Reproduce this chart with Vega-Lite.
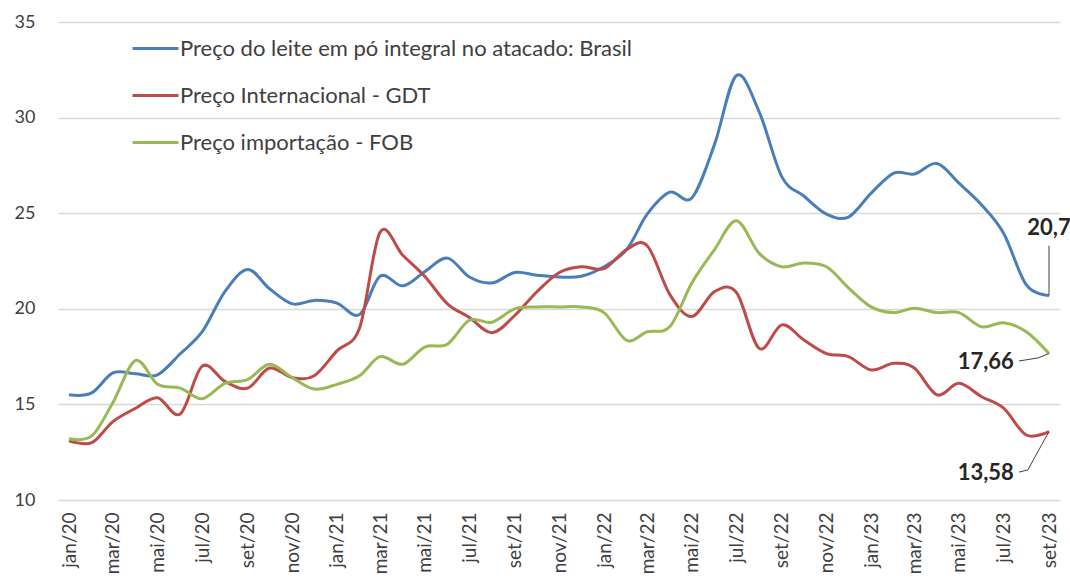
{
  "$schema": "https://vega.github.io/schema/vega-lite/v6.json",
  "width": 1002,
  "height": 478,
  "autosize": {"type": "none"},
  "padding": {"left": 58, "top": 22, "right": 10, "bottom": 82},
  "background": "white",
  "config": {"view": {"stroke": null}, "font": "Lato"},
  "datasets": {
    "prices": [
      {"date": "2020-01-01", "s": "B", "v": 15.5}, {"date": "2020-01-01", "s": "G", "v": 13.1}, {"date": "2020-01-01", "s": "F", "v": 13.2},
      {"date": "2020-02-01", "s": "B", "v": 15.6}, {"date": "2020-02-01", "s": "G", "v": 13.0}, {"date": "2020-02-01", "s": "F", "v": 13.35},
      {"date": "2020-03-01", "s": "B", "v": 16.65}, {"date": "2020-03-01", "s": "G", "v": 14.1}, {"date": "2020-03-01", "s": "F", "v": 15.1},
      {"date": "2020-04-01", "s": "B", "v": 16.6}, {"date": "2020-04-01", "s": "G", "v": 14.8}, {"date": "2020-04-01", "s": "F", "v": 17.3},
      {"date": "2020-05-01", "s": "B", "v": 16.55}, {"date": "2020-05-01", "s": "G", "v": 15.35}, {"date": "2020-05-01", "s": "F", "v": 16.05},
      {"date": "2020-06-01", "s": "B", "v": 17.65}, {"date": "2020-06-01", "s": "G", "v": 14.5}, {"date": "2020-06-01", "s": "F", "v": 15.85},
      {"date": "2020-07-01", "s": "B", "v": 18.8}, {"date": "2020-07-01", "s": "G", "v": 17.0}, {"date": "2020-07-01", "s": "F", "v": 15.3},
      {"date": "2020-08-01", "s": "B", "v": 20.9}, {"date": "2020-08-01", "s": "G", "v": 16.2}, {"date": "2020-08-01", "s": "F", "v": 16.1},
      {"date": "2020-09-01", "s": "B", "v": 22.05}, {"date": "2020-09-01", "s": "G", "v": 15.85}, {"date": "2020-09-01", "s": "F", "v": 16.3},
      {"date": "2020-10-01", "s": "B", "v": 21.05}, {"date": "2020-10-01", "s": "G", "v": 16.9}, {"date": "2020-10-01", "s": "F", "v": 17.1},
      {"date": "2020-11-01", "s": "B", "v": 20.26}, {"date": "2020-11-01", "s": "G", "v": 16.4}, {"date": "2020-11-01", "s": "F", "v": 16.4},
      {"date": "2020-12-01", "s": "B", "v": 20.44}, {"date": "2020-12-01", "s": "G", "v": 16.5}, {"date": "2020-12-01", "s": "F", "v": 15.8},
      {"date": "2021-01-01", "s": "B", "v": 20.3}, {"date": "2021-01-01", "s": "G", "v": 17.8}, {"date": "2021-01-01", "s": "F", "v": 16.05},
      {"date": "2021-02-01", "s": "B", "v": 19.7}, {"date": "2021-02-01", "s": "G", "v": 19.0}, {"date": "2021-02-01", "s": "F", "v": 16.5},
      {"date": "2021-03-01", "s": "B", "v": 21.7}, {"date": "2021-03-01", "s": "G", "v": 24.0}, {"date": "2021-03-01", "s": "F", "v": 17.5},
      {"date": "2021-04-01", "s": "B", "v": 21.2}, {"date": "2021-04-01", "s": "G", "v": 22.8}, {"date": "2021-04-01", "s": "F", "v": 17.1},
      {"date": "2021-05-01", "s": "B", "v": 21.94}, {"date": "2021-05-01", "s": "G", "v": 21.7}, {"date": "2021-05-01", "s": "F", "v": 18.0},
      {"date": "2021-06-01", "s": "B", "v": 22.65}, {"date": "2021-06-01", "s": "G", "v": 20.26}, {"date": "2021-06-01", "s": "F", "v": 18.15},
      {"date": "2021-07-01", "s": "B", "v": 21.66}, {"date": "2021-07-01", "s": "G", "v": 19.55}, {"date": "2021-07-01", "s": "F", "v": 19.4},
      {"date": "2021-08-01", "s": "B", "v": 21.35}, {"date": "2021-08-01", "s": "G", "v": 18.75}, {"date": "2021-08-01", "s": "F", "v": 19.3},
      {"date": "2021-09-01", "s": "B", "v": 21.9}, {"date": "2021-09-01", "s": "G", "v": 19.65}, {"date": "2021-09-01", "s": "F", "v": 20.0},
      {"date": "2021-10-01", "s": "B", "v": 21.76}, {"date": "2021-10-01", "s": "G", "v": 20.88}, {"date": "2021-10-01", "s": "F", "v": 20.1},
      {"date": "2021-11-01", "s": "B", "v": 21.66}, {"date": "2021-11-01", "s": "G", "v": 21.9}, {"date": "2021-11-01", "s": "F", "v": 20.1},
      {"date": "2021-12-01", "s": "B", "v": 21.7}, {"date": "2021-12-01", "s": "G", "v": 22.2}, {"date": "2021-12-01", "s": "F", "v": 20.1},
      {"date": "2022-01-01", "s": "B", "v": 22.2}, {"date": "2022-01-01", "s": "G", "v": 22.1}, {"date": "2022-01-01", "s": "F", "v": 19.8},
      {"date": "2022-02-01", "s": "B", "v": 23.1}, {"date": "2022-02-01", "s": "G", "v": 23.1}, {"date": "2022-02-01", "s": "F", "v": 18.35},
      {"date": "2022-03-01", "s": "B", "v": 24.95}, {"date": "2022-03-01", "s": "G", "v": 23.3}, {"date": "2022-03-01", "s": "F", "v": 18.8},
      {"date": "2022-04-01", "s": "B", "v": 26.1}, {"date": "2022-04-01", "s": "G", "v": 20.74}, {"date": "2022-04-01", "s": "F", "v": 19.07},
      {"date": "2022-05-01", "s": "B", "v": 25.8}, {"date": "2022-05-01", "s": "G", "v": 19.6}, {"date": "2022-05-01", "s": "F", "v": 21.35},
      {"date": "2022-06-01", "s": "B", "v": 28.6}, {"date": "2022-06-01", "s": "G", "v": 20.9}, {"date": "2022-06-01", "s": "F", "v": 23.1},
      {"date": "2022-07-01", "s": "B", "v": 32.2}, {"date": "2022-07-01", "s": "G", "v": 20.85}, {"date": "2022-07-01", "s": "F", "v": 24.6},
      {"date": "2022-08-01", "s": "B", "v": 30.3}, {"date": "2022-08-01", "s": "G", "v": 17.93}, {"date": "2022-08-01", "s": "F", "v": 22.9},
      {"date": "2022-09-01", "s": "B", "v": 26.9}, {"date": "2022-09-01", "s": "G", "v": 19.16}, {"date": "2022-09-01", "s": "F", "v": 22.2},
      {"date": "2022-10-01", "s": "B", "v": 25.9}, {"date": "2022-10-01", "s": "G", "v": 18.37}, {"date": "2022-10-01", "s": "F", "v": 22.4},
      {"date": "2022-11-01", "s": "B", "v": 24.95}, {"date": "2022-11-01", "s": "G", "v": 17.66}, {"date": "2022-11-01", "s": "F", "v": 22.2},
      {"date": "2022-12-01", "s": "B", "v": 24.8}, {"date": "2022-12-01", "s": "G", "v": 17.5}, {"date": "2022-12-01", "s": "F", "v": 21.1},
      {"date": "2023-01-01", "s": "B", "v": 26.05}, {"date": "2023-01-01", "s": "G", "v": 16.8}, {"date": "2023-01-01", "s": "F", "v": 20.1},
      {"date": "2023-02-01", "s": "B", "v": 27.1}, {"date": "2023-02-01", "s": "G", "v": 17.15}, {"date": "2023-02-01", "s": "F", "v": 19.8},
      {"date": "2023-03-01", "s": "B", "v": 27.05}, {"date": "2023-03-01", "s": "G", "v": 16.9}, {"date": "2023-03-01", "s": "F", "v": 20.03},
      {"date": "2023-04-01", "s": "B", "v": 27.6}, {"date": "2023-04-01", "s": "G", "v": 15.5}, {"date": "2023-04-01", "s": "F", "v": 19.8},
      {"date": "2023-05-01", "s": "B", "v": 26.57}, {"date": "2023-05-01", "s": "G", "v": 16.1}, {"date": "2023-05-01", "s": "F", "v": 19.8},
      {"date": "2023-06-01", "s": "B", "v": 25.43}, {"date": "2023-06-01", "s": "G", "v": 15.4}, {"date": "2023-06-01", "s": "F", "v": 19.06},
      {"date": "2023-07-01", "s": "B", "v": 23.95}, {"date": "2023-07-01", "s": "G", "v": 14.8}, {"date": "2023-07-01", "s": "F", "v": 19.27},
      {"date": "2023-08-01", "s": "B", "v": 21.25}, {"date": "2023-08-01", "s": "G", "v": 13.4}, {"date": "2023-08-01", "s": "F", "v": 18.8},
      {"date": "2023-09-01", "s": "B", "v": 20.7}, {"date": "2023-09-01", "s": "G", "v": 13.58}, {"date": "2023-09-01", "s": "F", "v": 17.66}
    ],
    "leaders": [
      {"date": "2023-09-01", "v": 20.7, "g": "a"}, {"date": "2023-09-01", "v": 23.3, "g": "a"},
      {"date": "2023-07-22", "v": 17.27, "g": "b"}, {"date": "2023-08-17", "v": 17.43, "g": "b"}, {"date": "2023-09-01", "v": 17.66, "g": "b"},
      {"date": "2023-07-22", "v": 11.46, "g": "c"}, {"date": "2023-08-03", "v": 11.57, "g": "c"}, {"date": "2023-09-01", "v": 13.58, "g": "c"}
    ]
  },
  "layer": [
    {
      "data": {"name": "prices"},
      "mark": {"type": "line", "strokeWidth": 3, "interpolate": "cardinal"},
      "encoding": {
        "x": {
          "field": "date", "type": "temporal",
          "scale": {"type": "utc", "padding": 11},
          "axis": {
            "title": null, "grid": false, "ticks": false, "domain": false,
            "tickCount": {"interval": "month", "step": 2},
            "labelExpr": "['jan','fev','mar','abr','mai','jun','jul','ago','set','out','nov','dez'][utcmonth(datum.value)] + '/' + utcFormat(datum.value, '%y')",
            "labelAngle": -90, "labelFontSize": 19, "labelColor": "#404040",
            "labelPadding": 12, "labelOverlap": false, "labelFlush": false
          }
        },
        "y": {
          "field": "v", "type": "quantitative",
          "scale": {"domain": [10, 35], "nice": false, "zero": false},
          "axis": {
            "title": null, "values": [10, 15, 20, 25, 30, 35], "grid": true,
            "gridColor": "#d9d9d9", "gridWidth": 1.5, "domain": false, "ticks": false,
            "labelFontSize": 18, "labelColor": "#404040", "labelPadding": 23
          }
        },
        "color": {
          "field": "s", "type": "nominal",
          "scale": {"domain": ["B", "G", "F"], "range": ["#4A7EBB", "#BE4B48", "#98B954"]},
          "legend": {
            "orient": "none", "legendX": 73, "legendY": 2, "title": null,
            "symbolType": "stroke", "symbolSize": 2116, "symbolStrokeWidth": 3,
            "labelFontSize": 22, "labelColor": "#404040", "rowPadding": 11,
            "labelOffset": 0, "padding": 0, "labelLimit": 0,
            "labelExpr": "datum.value == 'B' ? 'Preço do leite em pó integral no atacado: Brasil' : datum.value == 'G' ? 'Preço Internacional - GDT' : 'Preço importação - FOB'"
          }
        }
      }
    },
    {
      "data": {"name": "leaders"},
      "mark": {"type": "line", "color": "#404040", "strokeWidth": 1},
      "encoding": {
        "x": {"field": "date", "type": "temporal"},
        "y": {"field": "v", "type": "quantitative"},
        "detail": {"field": "g"}
      }
    },
    {
      "data": {"values": [{"date": "2023-09-01", "v": 24.2, "t": "20,7"}]},
      "mark": {"type": "text", "align": "center", "baseline": "middle", "fontSize": 22, "fontWeight": "bold", "color": "#262626"},
      "encoding": {
        "x": {"field": "date", "type": "temporal"},
        "y": {"field": "v", "type": "quantitative"},
        "text": {"field": "t"}
      }
    },
    {
      "data": {"values": [{"date": "2023-07-15", "v": 17.22, "t": "17,66"}, {"date": "2023-07-15", "v": 11.41, "t": "13,58"}]},
      "mark": {"type": "text", "align": "right", "baseline": "middle", "fontSize": 22, "fontWeight": "bold", "color": "#262626"},
      "encoding": {
        "x": {"field": "date", "type": "temporal"},
        "y": {"field": "v", "type": "quantitative"},
        "text": {"field": "t"}
      }
    }
  ]
}
